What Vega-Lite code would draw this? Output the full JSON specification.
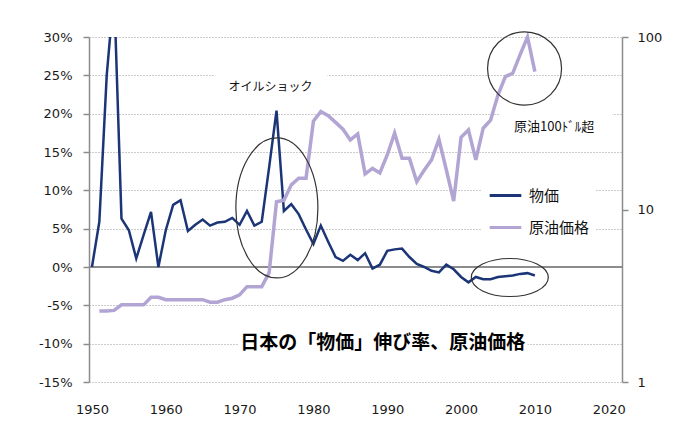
{
  "$schema": "https://vega.github.io/schema/vega-lite/v6.json",
  "width": 533,
  "height": 345,
  "autosize": {"type": "none"},
  "padding": {"left": 89, "top": 37, "right": 61, "bottom": 59},
  "background": "white",
  "config": {
    "view": {"stroke": null},
    "font": "DejaVu Sans",
    "numberFormat": "d",
    "axisX": {"tickCount": 8, "domain": false, "ticks": false, "grid": false, "labelPadding": 21, "labelFontSize": 13, "labelColor": "#1a1a1a", "title": null}
  },
  "data": {"values": [{}]},
  "datasets": {
    "price": [
      {"year": 1950, "value": 0}, {"year": 1951, "value": 5.9}, {"year": 1952, "value": 25}, {"year": 1953, "value": 36},
      {"year": 1954, "value": 6.3}, {"year": 1955, "value": 4.8}, {"year": 1956, "value": 1.1}, {"year": 1957, "value": 4.2},
      {"year": 1958, "value": 7.2}, {"year": 1959, "value": 0}, {"year": 1960, "value": 4.8}, {"year": 1961, "value": 8.1},
      {"year": 1962, "value": 8.7}, {"year": 1963, "value": 4.7}, {"year": 1964, "value": 5.5}, {"year": 1965, "value": 6.2},
      {"year": 1966, "value": 5.4}, {"year": 1967, "value": 5.8}, {"year": 1968, "value": 5.9}, {"year": 1969, "value": 6.4},
      {"year": 1970, "value": 5.5}, {"year": 1971, "value": 7.3}, {"year": 1972, "value": 5.4}, {"year": 1973, "value": 5.9},
      {"year": 1974, "value": 13}, {"year": 1975, "value": 20.4}, {"year": 1976, "value": 7.3}, {"year": 1977, "value": 8.2},
      {"year": 1978, "value": 6.9}, {"year": 1979, "value": 4.9}, {"year": 1980, "value": 3.0}, {"year": 1981, "value": 5.4},
      {"year": 1982, "value": 3.3}, {"year": 1983, "value": 1.3}, {"year": 1984, "value": 0.8}, {"year": 1985, "value": 1.6},
      {"year": 1986, "value": 0.9}, {"year": 1987, "value": 1.8}, {"year": 1988, "value": -0.2}, {"year": 1989, "value": 0.3},
      {"year": 1990, "value": 2.1}, {"year": 1991, "value": 2.3}, {"year": 1992, "value": 2.4}, {"year": 1993, "value": 1.3},
      {"year": 1994, "value": 0.4}, {"year": 1995, "value": 0.0}, {"year": 1996, "value": -0.5}, {"year": 1997, "value": -0.7},
      {"year": 1998, "value": 0.3}, {"year": 1999, "value": -0.3}, {"year": 2000, "value": -1.3}, {"year": 2001, "value": -2.0},
      {"year": 2002, "value": -1.3}, {"year": 2003, "value": -1.6}, {"year": 2004, "value": -1.6}, {"year": 2005, "value": -1.3},
      {"year": 2006, "value": -1.2}, {"year": 2007, "value": -1.1}, {"year": 2008, "value": -0.9}, {"year": 2009, "value": -0.8},
      {"year": 2010, "value": -1.1}
    ],
    "oil": [
      {"year": 1951, "price": 2.58}, {"year": 1952, "price": 2.58}, {"year": 1953, "price": 2.6}, {"year": 1954, "price": 2.8},
      {"year": 1955, "price": 2.8}, {"year": 1956, "price": 2.8}, {"year": 1957, "price": 2.8}, {"year": 1958, "price": 3.1},
      {"year": 1959, "price": 3.1}, {"year": 1960, "price": 3.0}, {"year": 1961, "price": 3.0}, {"year": 1962, "price": 3.0},
      {"year": 1963, "price": 3.0}, {"year": 1964, "price": 3.0}, {"year": 1965, "price": 3.0}, {"year": 1966, "price": 2.9},
      {"year": 1967, "price": 2.9}, {"year": 1968, "price": 3.0}, {"year": 1969, "price": 3.06}, {"year": 1970, "price": 3.2},
      {"year": 1971, "price": 3.57}, {"year": 1972, "price": 3.57}, {"year": 1973, "price": 3.57}, {"year": 1974, "price": 4.3},
      {"year": 1975, "price": 11.1}, {"year": 1976, "price": 11.3}, {"year": 1977, "price": 13.9}, {"year": 1978, "price": 15.2},
      {"year": 1979, "price": 15.2}, {"year": 1980, "price": 32.5}, {"year": 1981, "price": 37}, {"year": 1982, "price": 35},
      {"year": 1983, "price": 32}, {"year": 1984, "price": 29.2}, {"year": 1985, "price": 25.3}, {"year": 1986, "price": 27.4},
      {"year": 1987, "price": 16.1}, {"year": 1988, "price": 17.3}, {"year": 1989, "price": 16.3}, {"year": 1990, "price": 20.7},
      {"year": 1991, "price": 27.7}, {"year": 1992, "price": 19.8}, {"year": 1993, "price": 19.8}, {"year": 1994, "price": 14.5},
      {"year": 1995, "price": 16.9}, {"year": 1996, "price": 19.4}, {"year": 1997, "price": 25.5}, {"year": 1998, "price": 17},
      {"year": 1999, "price": 11.2}, {"year": 2000, "price": 26.2}, {"year": 2001, "price": 28.9}, {"year": 2002, "price": 19.4},
      {"year": 2003, "price": 29.6}, {"year": 2004, "price": 33.0}, {"year": 2005, "price": 46.1}, {"year": 2006, "price": 58.9},
      {"year": 2007, "price": 61.6}, {"year": 2008, "price": 79}, {"year": 2009, "price": 100}, {"year": 2010, "price": 63}
    ]
  },
  "layer": [
    {
      "encoding": {
        "x": {"type": "quantitative", "scale": {"domain": [1949.6, 2021.8], "nice": false, "zero": false}},
        "y": {"type": "quantitative", "scale": {"domain": [-15, 30], "nice": false, "zero": false}, "axis": null}
      },
      "layer": [
        {
          "mark": {"type": "rect", "fill": "white"},
          "encoding": {
            "x": {"datum": 1969.8, "type": "quantitative"}, "x2": {"datum": 2009.0},
            "y": {"datum": -8.2, "type": "quantitative", "axis": null}, "y2": {"datum": -11.6}
          }
        },
        {
          "mark": {"type": "rect", "fill": "white"},
          "encoding": {
            "x": {"datum": 1966.7, "type": "quantitative"}, "x2": {"datum": 1981.9},
            "y": {"datum": 26.7, "type": "quantitative", "axis": null}, "y2": {"datum": 21.3}
          }
        },
        {
          "mark": {"type": "rect", "fill": "white"},
          "encoding": {
            "x": {"datum": 2005.3, "type": "quantitative"}, "x2": {"datum": 2020.5},
            "y": {"datum": 21.25, "type": "quantitative", "axis": null}, "y2": {"datum": 15.8}
          }
        },
        {
          "mark": {"type": "rule", "color": "#8c8c8c", "strokeWidth": 2},
          "encoding": {"y": {"datum": 0, "type": "quantitative", "axis": null}}
        }
      ]
    },
    {
      "data": {"name": "price"},
      "mark": {"type": "line", "strokeWidth": 2.5, "clip": true},
      "encoding": {
        "x": {"field": "year", "type": "quantitative", "scale": {"domain": [1949.6, 2021.8], "nice": false, "zero": false}},
        "y": {"field": "value", "type": "quantitative", "scale": {"domain": [-15, 30], "nice": false, "zero": false},
          "axis": {"orient": "left", "values": [-15, -10, -5, 0, 5, 10, 15, 20, 25, 30], "labelExpr": "datum.value + '%'", "labelOverlap": false, "grid": true, "gridDash": [1, 2], "gridColor": "#999999", "gridWidth": 1, "domainColor": "#8c8c8c", "domainWidth": 1.5, "tickColor": "#8c8c8c", "tickSize": 6, "tickWidth": 1.5, "labelPadding": 11, "labelFontSize": 13, "labelColor": "#1a1a1a", "title": null}},
        "color": {"datum": "物価", "type": "nominal",
          "scale": {"domain": ["物価", "原油価格"], "range": ["#1c3577", "#b3a5d3"]},
          "legend": {"orient": "none", "legendX": 393, "legendY": 135, "title": null, "symbolType": "stroke", "symbolSize": 1000, "symbolStrokeWidth": 3, "labelFontSize": 15, "labelFont": "Noto Sans CJK JP", "labelColor": "#111111", "fillColor": "white", "padding": 6, "rowPadding": 6, "labelOffset": 6}}
      }
    },
    {
      "data": {"name": "oil"},
      "mark": {"type": "line", "strokeWidth": 3.5},
      "encoding": {
        "x": {"field": "year", "type": "quantitative", "scale": {"domain": [1949.6, 2021.8], "nice": false, "zero": false}},
        "y": {"field": "price", "type": "quantitative", "scale": {"type": "log", "domain": [1, 100], "nice": false},
          "axis": {"orient": "right", "values": [1, 10, 100], "grid": false, "labelOverlap": false, "domainColor": "#8c8c8c", "domainWidth": 1.5, "tickColor": "#8c8c8c", "tickSize": 6, "tickWidth": 1.5, "labelPadding": 9, "labelFontSize": 13, "labelColor": "#1a1a1a", "title": null}},
        "color": {"datum": "原油価格", "type": "nominal"}
      }
    },
    {
      "encoding": {
        "x": {"type": "quantitative", "scale": {"domain": [1949.6, 2021.8], "nice": false, "zero": false}},
        "y": {"type": "quantitative", "scale": {"domain": [-15, 30], "nice": false, "zero": false}, "axis": null}
      },
      "layer": [
        {
          "mark": {"type": "point", "shape": "M-0.586,0A0.586,1 0 1,0 0.586,0A0.586,1 0 1,0 -0.586,0Z", "size": 19600, "filled": false, "stroke": "#333333", "strokeWidth": 1.2, "opacity": 1},
          "encoding": {"x": {"datum": 1975.05, "type": "quantitative"}, "y": {"datum": 7.7, "type": "quantitative", "axis": null}}
        },
        {
          "mark": {"type": "point", "shape": "M-1,0A1,0.99 0 1,0 1,0A1,0.99 0 1,0 -1,0Z", "size": 5476, "filled": false, "stroke": "#333333", "strokeWidth": 1.2, "opacity": 1},
          "encoding": {"x": {"datum": 2008.6, "type": "quantitative"}, "y": {"datum": 25.9, "type": "quantitative", "axis": null}}
        },
        {
          "mark": {"type": "point", "shape": "M-1,0A1,0.494 0 1,0 1,0A1,0.494 0 1,0 -1,0Z", "size": 5929, "filled": false, "stroke": "#333333", "strokeWidth": 1.2, "opacity": 1},
          "encoding": {"x": {"datum": 2006.6, "type": "quantitative"}, "y": {"datum": -1.37, "type": "quantitative", "axis": null}}
        },
        {
          "mark": {"type": "text", "text": "オイルショック", "font": "Noto Sans CJK JP", "fontSize": 12, "color": "#111111", "align": "center", "baseline": "middle"},
          "encoding": {"x": {"datum": 1974.2, "type": "quantitative"}, "y": {"datum": 23.5, "type": "quantitative", "axis": null}}
        },
        {
          "mark": {"type": "text", "text": "原油100ﾄﾞﾙ超", "font": "Noto Sans CJK JP", "fontSize": 13, "color": "#111111", "align": "center", "baseline": "middle"},
          "encoding": {"x": {"datum": 2012.6, "type": "quantitative"}, "y": {"datum": 18.3, "type": "quantitative", "axis": null}}
        },
        {
          "mark": {"type": "text", "text": "日本の「物価」伸び率、原油価格", "font": "Noto Sans CJK JP", "fontSize": 19, "fontWeight": "bold", "color": "#000000", "align": "center", "baseline": "middle"},
          "encoding": {"x": {"datum": 1989.4, "type": "quantitative"}, "y": {"datum": -9.9, "type": "quantitative", "axis": null}}
        }
      ]
    }
  ],
  "resolve": {"scale": {"y": "independent"}}
}
